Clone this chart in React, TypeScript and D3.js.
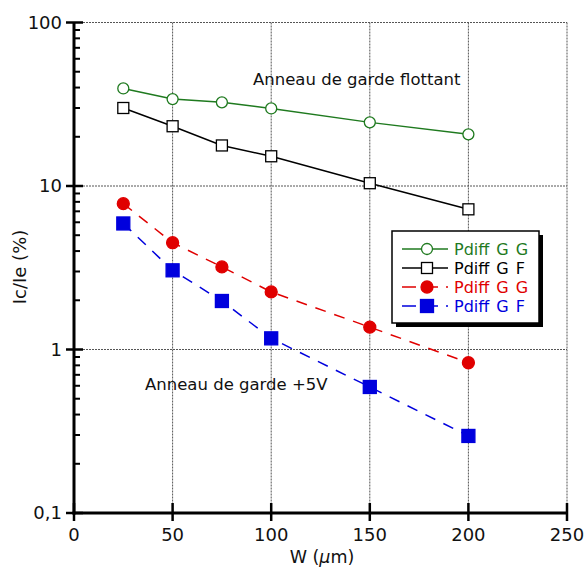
import React from "react";
import * as d3 from "d3";

const widths = [25, 50, 75, 100, 150, 200];
const greenOpen = [39.5, 34, 32.5, 29.8, 24.5, 20.7];
const blackOpen = [30, 23.2, 17.7, 15.2, 10.4, 7.2];
const redFilled = [7.8, 4.5, 3.2, 2.25, 1.37, 0.83];
const blueFilled = [5.9, 3.05, 1.98, 1.17, 0.59, 0.296];

const xTicks = [0, 50, 100, 150, 200, 250];
const yTicks = [0.1, 1, 10, 100];
const yTickLabels = ["0,1", "1", "10", "100"];
const legendLabels = ["Pdiff G G", "Pdiff G F", "Pdiff G G", "Pdiff G F"];

const FONT = "DejaVu Sans, sans-serif";

export default function App() {
  const x = d3.scaleLinear().domain([0, 250]).range([74, 567]);
  const y = d3.scaleLog().domain([0.1, 100]).range([513, 22.5]);

  const minor: number[] = [];
  [0.1, 1, 10].forEach((d) => {
    for (let k = 2; k <= 9; k++) minor.push(d * k);
  });

  const line = (vals: number[]) =>
    d3
      .line<number>()
      .x((_, i) => x(widths[i]))
      .y((v) => y(v))(vals) as string;

  const green = "#1f7a1f";
  const red = "#e00000";
  const blue = "#0000dd";

  const series = [
    { vals: greenOpen, color: green, dash: undefined as string | undefined, marker: "circle", filled: false },
    { vals: blackOpen, color: "#000", dash: undefined, marker: "square", filled: false },
    { vals: redFilled, color: red, dash: "11,9", marker: "circle", filled: true },
    { vals: blueFilled, color: blue, dash: "11,9", marker: "square", filled: true },
  ];

  const drawMarker = (s: typeof series[0], cx: number, cy: number, key: string) => {
    if (s.marker === "circle") {
      return (
        <circle
          key={key}
          cx={cx}
          cy={cy}
          r={s.filled ? 6 : 5.5}
          fill={s.filled ? s.color : "white"}
          stroke={s.color}
          strokeWidth={1.3}
        />
      );
    }
    const half = s.filled ? 6.5 : 5.5;
    return (
      <rect
        key={key}
        x={cx - half}
        y={cy - half}
        width={half * 2}
        height={half * 2}
        fill={s.filled ? s.color : "white"}
        stroke={s.color}
        strokeWidth={1.3}
      />
    );
  };

  const legendY = [249, 268, 287, 306];

  return (
    <svg width={586} height={571} style={{ position: "absolute", left: 0, top: 0, background: "white" }} fontFamily={FONT}>
      <rect width={586} height={571} fill="white" />
      {/* grid */}
      {xTicks.slice(1).map((t) => (
        <line key={"gx" + t} x1={x(t)} x2={x(t)} y1={y(100)} y2={y(0.1)} stroke="#555" strokeWidth={1} strokeDasharray="2,1" />
      ))}
      {yTicks.slice(1).map((t) => (
        <line key={"gy" + t} x1={x(0)} x2={x(250)} y1={y(t)} y2={y(t)} stroke="#555" strokeWidth={1} strokeDasharray="2,1" />
      ))}

      {/* series lines */}
      {series.map((s, i) => (
        <path key={"l" + i} d={line(s.vals)} fill="none" stroke={s.color} strokeWidth={1.5} strokeDasharray={s.dash} />
      ))}
      {series.map((s, i) => s.vals.map((v, j) => drawMarker(s, x(widths[j]), y(v), `m${i}-${j}`)))}

      {/* axes */}
      <line x1={x(0)} x2={x(0)} y1={y(100)} y2={y(0.1) + 1.5} stroke="#000" strokeWidth={3} />
      <line x1={x(0) - 1.5} x2={x(250)} y1={y(0.1)} y2={y(0.1)} stroke="#000" strokeWidth={3} />
      {yTicks.map((t) => (
        <line key={"yt" + t} x1={x(0) - 8} x2={x(0) + 9} y1={y(t)} y2={y(t)} stroke="#000" strokeWidth={2.5} />
      ))}
      {minor.map((t) => (
        <line key={"ym" + t} x1={x(0)} x2={x(0) + 6} y1={y(t)} y2={y(t)} stroke="#000" strokeWidth={2} />
      ))}
      {xTicks.map((t) => (
        <line key={"xt" + t} x1={x(t)} x2={x(t)} y1={y(0.1) - 10} y2={y(0.1) + 8} stroke="#000" strokeWidth={2.5} />
      ))}
      {yTicks.map((t, i) => (
        <text key={"yl" + t} x={62} y={y(t)} dy="0.35em" textAnchor="end" fontSize={18} fill="#111">
          {yTickLabels[i]}
        </text>
      ))}
      {xTicks.map((t) => (
        <text key={"xl" + t} x={x(t)} y={541} textAnchor="middle" fontSize={18} fill="#111">
          {t}
        </text>
      ))}
      <text x={322} y={563} textAnchor="middle" fontSize={17.5} fill="#111">
        W (<tspan fontStyle="italic">μ</tspan>m)
      </text>
      <text transform="translate(26,267) rotate(-90)" textAnchor="middle" fontSize={18} fill="#111">
        Ic/Ie (%)
      </text>

      {/* annotations */}
      <text x={253} y={85} fontSize={16.5} fill="#111">
        Anneau de garde flottant
      </text>
      <text x={145} y={390} fontSize={16.5} fill="#111">
        Anneau de garde +5V
      </text>

      {/* legend */}
      <rect x={396} y={235} width={147} height={92} fill="#000" />
      <rect x={392} y={231} width={147} height={92} fill="white" stroke="#000" strokeWidth={1.5} />
      {series.map((s, i) => (
        <g key={"lg" + i}>
          <line x1={402} x2={448} y1={legendY[i]} y2={legendY[i]} stroke={s.color} strokeWidth={1.5} strokeDasharray={s.dash ? "14,8" : undefined} />
          {drawMarker(s, 427, legendY[i], "lm" + i)}
          <text x={454} y={legendY[i]} dy="0.36em" fontSize={16} wordSpacing={2} fill={s.color}>
            {legendLabels[i]}
          </text>
        </g>
      ))}
    </svg>
  );
}
